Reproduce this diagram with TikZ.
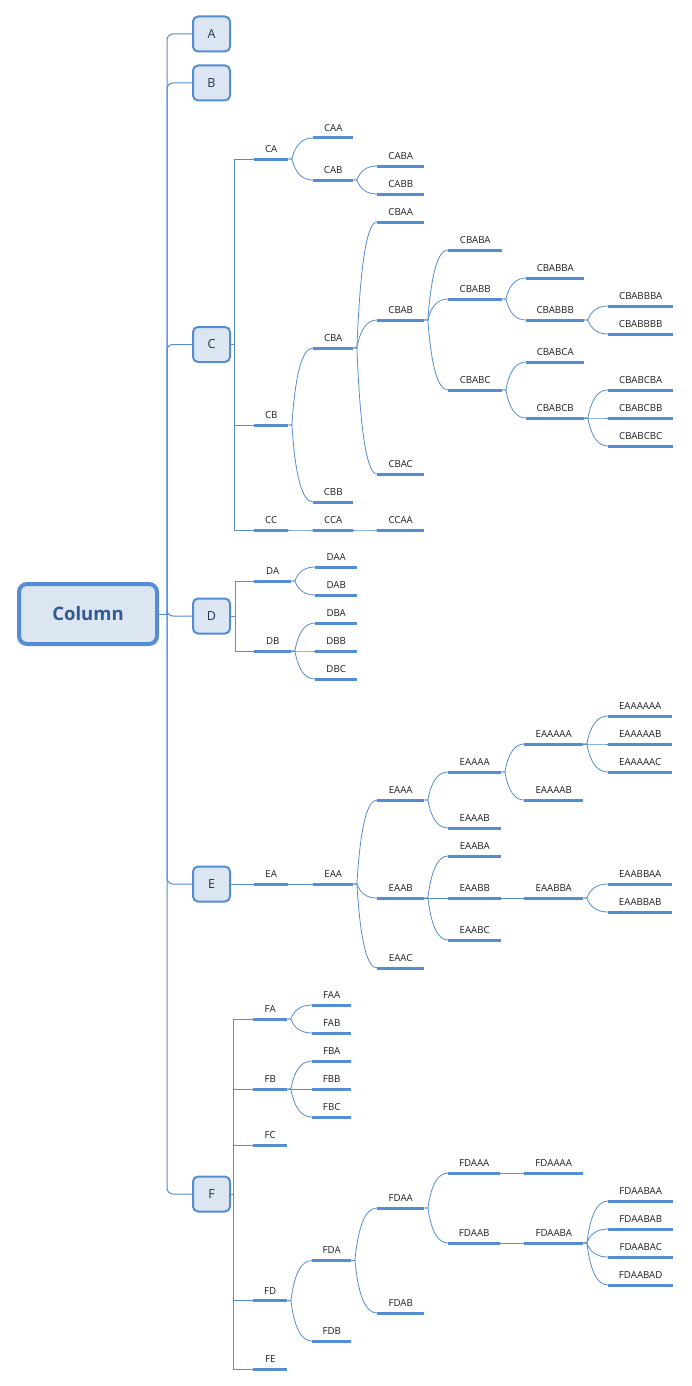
\documentclass[tikz,border=0pt]{standalone}
\usepackage{fontspec}
\setmainfont{Open Sans}
\usetikzlibrary{calc}

\definecolor{lineblue}{HTML}{548DD4}
\definecolor{boxfill}{HTML}{DCE6F2}
\definecolor{roottext}{HTML}{2F5A92}
\definecolor{boxtext}{HTML}{22344F}
\definecolor{labtext}{HTML}{1E1E1E}

\tikzset{
  conn/.style={draw=lineblue, line width=0.8pt},
  trunk/.style={draw=lineblue, line width=1pt},
  ul/.style={draw=lineblue, line width=3pt},
  rootbox/.style={draw=lineblue, fill=boxfill, line width=4pt, rounded corners=8pt,
    minimum width=138pt, minimum height=60pt, inner sep=0pt,
    font=\fontsize{18.5}{20}\selectfont\bfseries, text=roottext},
  mainbox/.style={draw=lineblue, fill=boxfill, line width=2pt, rounded corners=5pt,
    minimum width=37pt, minimum height=35pt, inner sep=0pt,
    font=\fontsize{12.5}{14}\selectfont, text=boxtext},
  topic/.style={anchor=south west, inner sep=0pt, text height=7pt, text depth=6.5pt,
    font=\fontsize{9.7}{11}\selectfont, text=labtext},
}

% a topic: label over a thick underline; args: name, left x, y of underline, width
\newcommand\topic[4]{%
  \node[topic, minimum width=#4pt] (#1) at (#2,#3) {#1};
  \draw[ul] (#1.south west) -- (#1.south east);}

% curved branch from the end of a parent underline to the start of a child underline
\newcommand\twig[2]{%
  \coordinate (tw-f) at ($(#1.south east)+(3.5,0)$);
  \coordinate (tw-c) at ($(tw-f |- #2.south west)+(5,0)$);
  \draw[conn] (#1.south east) -- (tw-f)
    .. controls ($(tw-f)!0.6667!(tw-c)$) and ($(#2.south west)!0.6667!(tw-c)$) .. (#2.south west);}

% square elbow from a main box to a second-level topic; #3 = offset of the vertical
\newcommand\elbow[3]{%
  \draw[trunk] (#1.east) -- ($(#1.east)+(#3,0)$) |- (#2.south west);}

\begin{document}
\begin{tikzpicture}[x=1pt, y=-1pt]
\fill[white] (0,0) rectangle (691,1386);
\useasboundingbox (0,0) rectangle (691,1386);

% central topic and main branches
\node[rootbox] (root) at (88,614) {Column};
\node[mainbox] (A) at (211.5,34) {A};
\node[mainbox] (B) at (211.5,83) {B};
\node[mainbox] (C) at (211.5,344.5) {C};
\node[mainbox] (D) at (211.5,616) {D};
\node[mainbox] (E) at (211.5,884) {E};
\node[mainbox] (F) at (211.5,1194) {F};

\coordinate (hub) at (167,614);
\draw[trunk] (root.east) -- (hub);
\foreach \m in {A,B,C,D,E,F}
  \draw[trunk, rounded corners=6pt] (hub) |- (\m.west);

% ---- C ----
\topic{CA}{254}{159}{34}
\topic{CB}{254}{425}{34}
\topic{CC}{254}{530}{34}
\topic{CAA}{313}{138}{40}
\topic{CAB}{313}{180}{40}
\topic{CBA}{313}{348}{40}
\topic{CBB}{313}{502}{40}
\topic{CCA}{313}{530}{40}
\topic{CABA}{377}{166}{47}
\topic{CABB}{377}{194}{47}
\topic{CBAA}{377}{222}{47}
\topic{CBAB}{377}{320}{47}
\topic{CBAC}{377}{474}{47}
\topic{CCAA}{377}{530}{47}
\topic{CBABA}{448}{250}{54}
\topic{CBABB}{448}{299}{54}
\topic{CBABC}{448}{390}{54}
\topic{CBABBA}{526}{278}{58}
\topic{CBABBB}{526}{320}{58}
\topic{CBABCA}{526}{362}{58}
\topic{CBABCB}{526}{418}{58}
\topic{CBABBBA}{608}{306}{65}
\topic{CBABBBB}{608}{334}{65}
\topic{CBABCBA}{608}{390}{65}
\topic{CBABCBB}{608}{418}{65}
\topic{CBABCBC}{608}{446}{65}

\foreach \k in {CA,CB,CC} \elbow{C}{\k}{3};
\foreach \p/\c in {CA/CAA, CA/CAB, CAB/CABA, CAB/CABB, CB/CBA, CB/CBB,
  CBA/CBAA, CBA/CBAB, CBA/CBAC, CBAB/CBABA, CBAB/CBABB, CBAB/CBABC,
  CBABB/CBABBA, CBABB/CBABBB, CBABBB/CBABBBA, CBABBB/CBABBBB,
  CBABC/CBABCA, CBABC/CBABCB, CBABCB/CBABCBA, CBABCB/CBABCBB, CBABCB/CBABCBC,
  CC/CCA, CCA/CCAA}
  \twig{\p}{\c};

% ---- D ----
\topic{DA}{254}{581}{37}
\topic{DB}{254}{651}{37}
\topic{DAA}{315}{567}{42}
\topic{DAB}{315}{595}{42}
\topic{DBA}{315}{623}{42}
\topic{DBB}{315}{651}{42}
\topic{DBC}{315}{679}{42}
\foreach \k in {DA,DB} \elbow{D}{\k}{4};
\foreach \p/\c in {DA/DAA, DA/DAB, DB/DBA, DB/DBB, DB/DBC}
  \twig{\p}{\c};

% ---- E ----
\topic{EA}{254}{884}{34}
\topic{EAA}{313}{884}{40}
\topic{EAAA}{377}{800}{47}
\topic{EAAB}{377}{898}{47}
\topic{EAAC}{377}{968}{47}
\topic{EAAAA}{448}{772}{53}
\topic{EAAAB}{448}{828}{53}
\topic{EAABA}{448}{856}{53}
\topic{EAABB}{448}{898}{53}
\topic{EAABC}{448}{940}{53}
\topic{EAAAAA}{524}{744}{59}
\topic{EAAAAB}{524}{800}{59}
\topic{EAABBA}{524}{898}{59}
\topic{EAAAAAA}{608}{716}{64}
\topic{EAAAAAB}{608}{744}{64}
\topic{EAAAAAC}{608}{772}{64}
\topic{EAABBAA}{608}{884}{64}
\topic{EAABBAB}{608}{912}{64}
\draw[trunk] (E.east) -- (EA.south west);
\foreach \p/\c in {EA/EAA, EAA/EAAA, EAA/EAAB, EAA/EAAC,
  EAAA/EAAAA, EAAA/EAAAB, EAAAA/EAAAAA, EAAAA/EAAAAB,
  EAAAAA/EAAAAAA, EAAAAA/EAAAAAB, EAAAAA/EAAAAAC,
  EAAB/EAABA, EAAB/EAABB, EAAB/EAABC, EAABB/EAABBA,
  EAABBA/EAABBAA, EAABBA/EAABBAB}
  \twig{\p}{\c};

% ---- F ----
\topic{FA}{253}{1019}{34}
\topic{FB}{253}{1089}{34}
\topic{FC}{253}{1145}{34}
\topic{FD}{253}{1300.75}{34}
\topic{FE}{253}{1369}{34}
\topic{FAA}{312}{1005}{39}
\topic{FAB}{312}{1033}{39}
\topic{FBA}{312}{1061}{39}
\topic{FBB}{312}{1089}{39}
\topic{FBC}{312}{1117}{39}
\topic{FDA}{312}{1260.5}{39}
\topic{FDB}{312}{1341}{39}
\topic{FDAA}{377}{1208}{47}
\topic{FDAB}{377}{1313}{47}
\topic{FDAAA}{448}{1173}{52}
\topic{FDAAB}{448}{1243}{52}
\topic{FDAAAA}{524}{1173}{59}
\topic{FDAABA}{524}{1243}{59}
\topic{FDAABAA}{608}{1201}{65}
\topic{FDAABAB}{608}{1229}{65}
\topic{FDAABAC}{608}{1257}{65}
\topic{FDAABAD}{608}{1285}{65}
\foreach \k in {FA,FB,FC,FD,FE} \elbow{F}{\k}{2};
\foreach \p/\c in {FA/FAA, FA/FAB, FB/FBA, FB/FBB, FB/FBC,
  FD/FDA, FD/FDB, FDA/FDAA, FDA/FDAB, FDAA/FDAAA, FDAA/FDAAB,
  FDAAA/FDAAAA, FDAAB/FDAABA,
  FDAABA/FDAABAA, FDAABA/FDAABAB, FDAABA/FDAABAC, FDAABA/FDAABAD}
  \twig{\p}{\c};
\end{tikzpicture}
\end{document}
